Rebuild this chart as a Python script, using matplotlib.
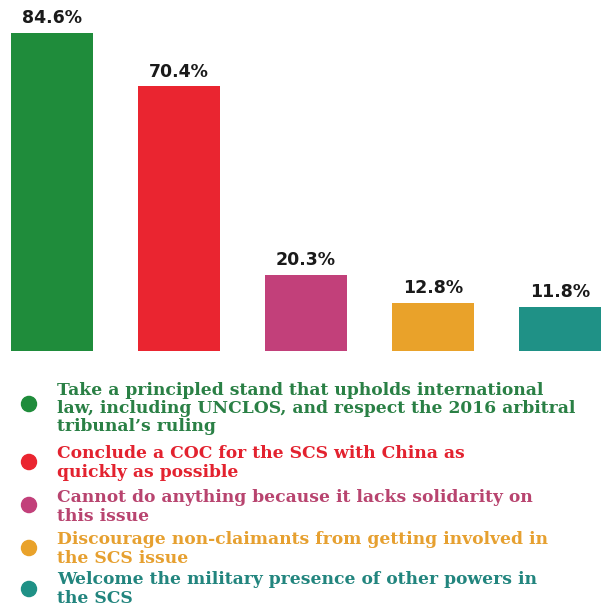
import matplotlib
matplotlib.use("Agg")
import matplotlib.pyplot as plt

values = [84.6, 70.4, 20.3, 12.8, 11.8]
labels = ["84.6%", "70.4%", "20.3%", "12.8%", "11.8%"]
legend_texts = [
    "Take a principled stand that upholds international\nlaw, including UNCLOS, and respect the 2016 arbitral\ntribunal\u2019s ruling",
    "Conclude a COC for the SCS with China as\nquickly as possible",
    "Cannot do anything because it lacks solidarity on\nthis issue",
    "Discourage non-claimants from getting involved in\nthe SCS issue",
    "Welcome the military presence of other powers in\nthe SCS",
]
colors = ["#1f8c3b", "#ea2530", "#c2407a", "#e9a22a", "#1f9186"]
text_colors = ["#2a8045", "#e3222f", "#b8446f", "#e6a030", "#22857e"]

W, H = 606, 611
fig = plt.figure(figsize=(W / 100, H / 100), dpi=100)
ax = fig.add_axes([0, (H - 351) / H, 1, 351 / H])
x = list(range(len(values)))
ax.bar(x, values, width=82 / 127, color=colors)
ax.set_xlim(-52 / 127, (W - 52) / 127)
ax.set_ylim(0, 351 / 3.76)
ax.axis("off")
for xi, v, lab in zip(x, values, labels):
    ax.annotate(lab, (xi, v), xytext=(0, 7.0), textcoords="offset points",
                ha="center", va="baseline", fontsize=12.5, fontweight="bold",
                family="DejaVu Sans", color="#1a1a1a")

# legend
first_baselines = [394, 458, 502, 544, 584]
circle_y = [404, 462, 505, 548, 589]
line_step = 18.7
for txt, tc, c, by, cy in zip(legend_texts, text_colors, colors, first_baselines, circle_y):
    n = txt.count("\n")
    last_base = by + n * line_step
    fig.text(57 / W, 1 - last_base / H, txt, ha="left", va="baseline", color=tc,
             fontsize=12.3, fontweight="bold", family="DejaVu Serif",
             linespacing=1.1)
    fig.patches.append(plt.Circle((29 / W, 1 - cy / H), 7.5 / W, transform=fig.transFigure,
                                  color=c))

fig.savefig("out.png", dpi=100)
